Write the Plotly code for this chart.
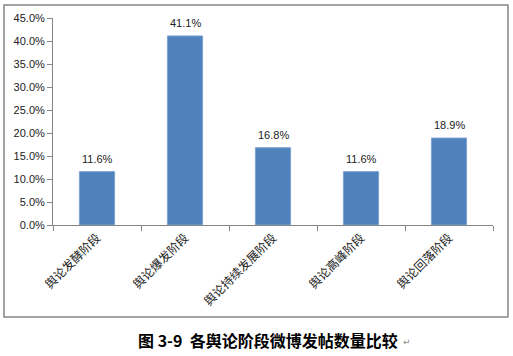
import plotly.graph_objects as go

categories = ["舆论发酵阶段", "舆论爆发阶段", "舆论持续发展阶段", "舆论高峰阶段", "舆论回落阶段"]
values = [11.6, 41.1, 16.8, 11.6, 18.9]
y_ticks = [0, 5, 10, 15, 20, 25, 30, 35, 40, 45]
caption = "图 3-9  各舆论阶段微博发帖数量比较"

fig = go.Figure()
fig.add_trace(go.Bar(
    x=categories, y=values,
    marker=dict(color="#4F81BD", line=dict(color="#7FA3D3", width=1)),
    width=0.4,
))

label_annotations = [
    dict(
        x=c, y=v, xref="x", yref="y", text=f"{v:.1f}%",
        showarrow=False, yanchor="bottom", yshift=5,
        font=dict(family="Liberation Sans, Arial", size=11, color="#222"),
    )
    for c, v in zip(categories, values)
]

fig.update_layout(
    width=513, height=356,
    margin=dict(l=53, r=20, t=18, b=131),
    paper_bgcolor="white", plot_bgcolor="white",
    showlegend=False,
    xaxis=dict(
        type="category", tickangle=-45, automargin=False,
        showline=True, linecolor="#868686", linewidth=1,
        ticks="outside", ticklen=5, tickcolor="#868686",
        tickson="boundaries",
        tickfont=dict(family="Noto Sans CJK SC", size=12, color="#222"),
        showgrid=False,
    ),
    yaxis=dict(
        range=[0, 45], tickvals=y_ticks, automargin=False,
        ticktext=[f"{t:.1f}%" for t in y_ticks],
        showline=True, linecolor="#868686", linewidth=1,
        ticks="outside", ticklen=5, tickcolor="#868686",
        tickfont=dict(family="Liberation Sans, Arial", size=11, color="#222"),
        showgrid=False, zeroline=False,
    ),
    shapes=[dict(
        type="rect", xref="paper", yref="paper",
        x0=-0.1114, x1=1.034, y0=-0.4444, y1=1.0628,
        line=dict(color="#868686", width=1.5),
    )],
    annotations=label_annotations + [
        dict(
            text=f"<b>{caption}</b>", xref="paper", yref="paper",
            x=0.488, y=-0.556, xanchor="center", yanchor="middle",
            showarrow=False,
            font=dict(family="Noto Sans CJK SC", size=16, color="black"),
        ),
        dict(
            text="↵", xref="paper", yref="paper",
            x=0.79, y=-0.565, xanchor="left", yanchor="middle",
            showarrow=False,
            font=dict(family="DejaVu Sans", size=9, color="#888"),
        ),
    ],
)

fig.write_html("out.html", config={"displayModeBar": False},
               post_script="document.body.style.margin='0';")
